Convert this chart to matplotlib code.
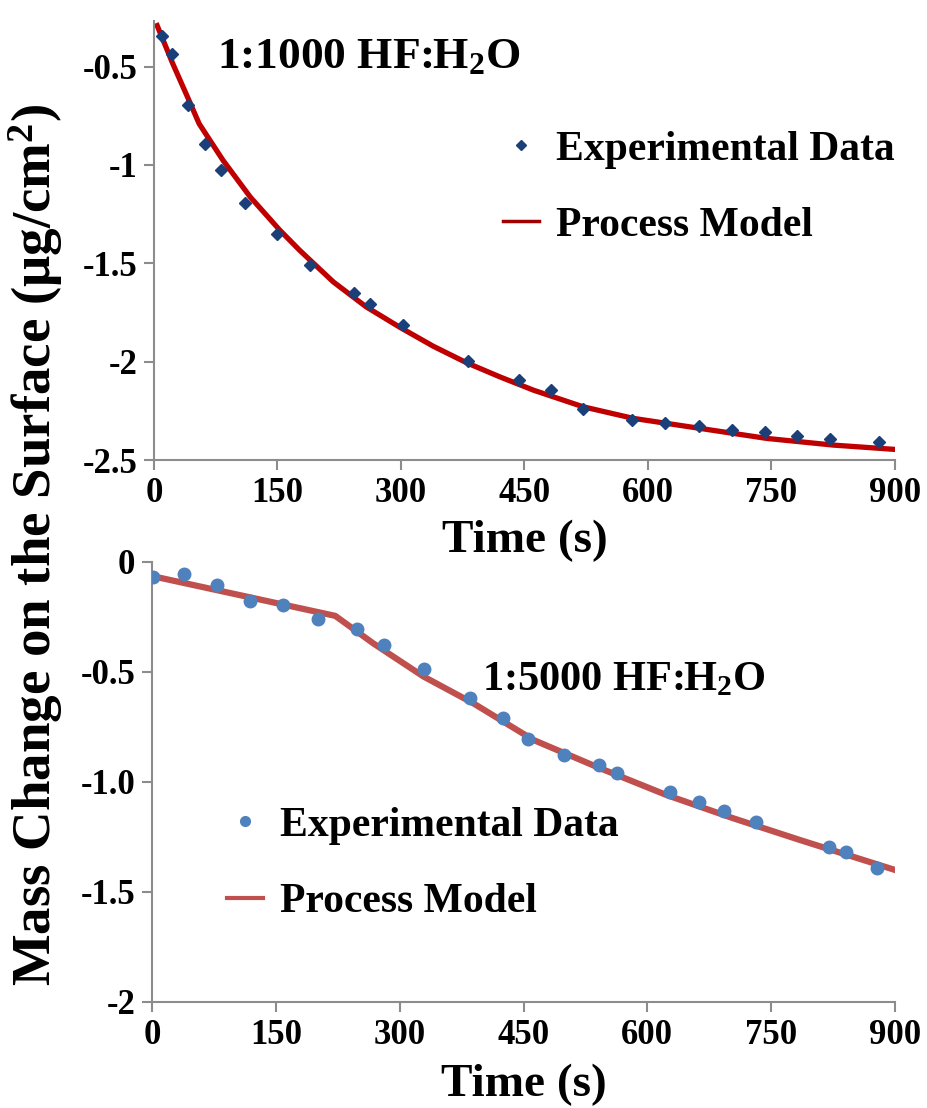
import numpy as np
import matplotlib
matplotlib.use('Agg')
import matplotlib.pyplot as plt
from matplotlib.ticker import FixedLocator, FixedFormatter

plt.rcParams['font.family'] = ['Liberation Serif', 'DejaVu Serif']
plt.rcParams['font.weight'] = 'bold'
plt.rcParams['mathtext.fontset'] = 'custom'
plt.rcParams['mathtext.rm'] = 'Liberation Serif:bold'
plt.rcParams['mathtext.bf'] = 'Liberation Serif:bold'
plt.rcParams['mathtext.it'] = 'Liberation Serif:bold'

# --- 1:1000 HF:H2O ---
t_exp_1000 = [10, 22, 42, 62, 81, 111, 150, 190, 243, 262, 302, 382, 443, 482, 521,
              581, 621, 662, 702, 742, 781, 821, 881]
m_exp_1000 = [-0.343, -0.435, -0.694, -0.892, -1.028, -1.192, -1.349, -1.510, -1.651,
              -1.708, -1.815, -1.997, -2.094, -2.145, -2.241, -2.297, -2.314, -2.327,
              -2.348, -2.356, -2.378, -2.393, -2.407]
t_mod_1000 = [4, 23, 40, 55, 84, 117, 153, 177, 218, 258, 299, 339, 380, 420, 461,
              521, 582, 663, 744, 825, 900]
m_mod_1000 = [-0.292, -0.486, -0.647, -0.791, -0.977, -1.163, -1.332, -1.434, -1.595,
              -1.722, -1.826, -1.921, -2.006, -2.077, -2.145, -2.229, -2.288, -2.339,
              -2.390, -2.424, -2.446]

# --- 1:5000 HF:H2O ---
t_exp_5000 = [1, 39, 79, 119, 159, 201, 248, 281, 329, 385, 425, 455, 499, 541, 563,
              627, 663, 693, 732, 820, 841, 878]
m_exp_5000 = [-0.067, -0.055, -0.105, -0.176, -0.195, -0.259, -0.305, -0.377, -0.486,
              -0.617, -0.708, -0.806, -0.877, -0.923, -0.961, -1.044, -1.089, -1.132,
              -1.183, -1.294, -1.317, -1.392]
t_mod_5000 = [0, 222, 268, 329, 389, 462, 543, 623, 704, 785, 900]
m_mod_5000 = [-0.064, -0.245, -0.370, -0.521, -0.642, -0.809, -0.938, -1.059, -1.165,
              -1.264, -1.400]

x_ticks = [0, 150, 300, 450, 600, 750, 900]
y_ticks_top = [-2.5, -2, -1.5, -1, -0.5]
y_labels_top = ['-2.5', '-2', '-1.5', '-1', '-0.5']
y_ticks_bot = [-2, -1.5, -1.0, -0.5, 0]
y_labels_bot = ['-2', '-1.5', '-1.0', '-0.5', '0']

TICK_FS = 25
LAB_FS = 34
LEG_FS = 30

fig = plt.figure(figsize=(9.27, 11.08), dpi=100)
ax1 = fig.add_axes([0.166, 0.5848, 0.7995, 0.396])
ax2 = fig.add_axes([0.164, 0.0957, 0.8015, 0.3971])

grey = '#8c8c8c'
for ax in (ax1, ax2):
    for s in ('top', 'right'):
        ax.spines[s].set_visible(False)
    for s in ('left', 'bottom'):
        ax.spines[s].set_color(grey)
        ax.spines[s].set_linewidth(1.5)
    ax.tick_params(axis='both', colors=grey, width=1.5, length=7, labelsize=TICK_FS,
                   labelcolor='black', pad=5)
    ax.set_xlim(0, 900)
    ax.xaxis.set_major_locator(FixedLocator(x_ticks))
    ax.xaxis.set_major_formatter(FixedFormatter([str(v) for v in x_ticks]))

# top panel
ax1.plot(t_exp_1000, m_exp_1000, linestyle='none', marker='D', markersize=6.5,
         color='#1b3f78', label='Experimental Data', zorder=3)
ax1.plot(t_mod_1000, m_mod_1000, color='#c00000', linewidth=3.8,
         label='Process Model', zorder=2)
ax1.set_ylim(-2.5, -0.27)
ax1.yaxis.set_major_locator(FixedLocator(y_ticks_top))
ax1.yaxis.set_major_formatter(FixedFormatter(y_labels_top))
ax1.set_xlabel('Time (s)', fontsize=LAB_FS, fontweight='bold', labelpad=7)
ax1.text(0.085, 0.965, '1:1000 HF:H$_2$O', transform=ax1.transAxes,
         fontsize=32.7, fontweight='bold', va='top', ha='left')
leg1 = ax1.legend(loc='upper left', bbox_to_anchor=(0.543, 0.882),
                  bbox_transform=fig.transFigure, frameon=False, borderpad=0,
                  borderaxespad=0, handlelength=0.86, handletextpad=0.4,
                  labelspacing=0.9, prop={'weight': 'bold', 'size': LEG_FS})
leg1.get_lines()[0].set_markersize(5)
leg1.get_lines()[1].set_linewidth(2.5)
leg1.get_lines()[1].set_color('#a00000')

# bottom panel
ax2.plot(t_exp_5000, m_exp_5000, linestyle='none', marker='o', markersize=9,
         color='#4f81bd', label='Experimental Data', zorder=3)
ax2.plot(t_mod_5000, m_mod_5000, color='#c0504d', linewidth=4.5,
         label='Process Model', zorder=2)
ax2.set_ylim(-2, 0)
ax2.yaxis.set_major_locator(FixedLocator(y_ticks_bot))
ax2.yaxis.set_major_formatter(FixedFormatter(y_labels_bot))
ax2.set_xlabel('Time (s)', fontsize=LAB_FS, fontweight='bold', labelpad=9)
ax2.text(0.444, 0.775, '1:5000 HF:H$_2$O', transform=ax2.transAxes,
         fontsize=30.5, fontweight='bold', va='top', ha='left')
leg2 = ax2.legend(loc='upper left', bbox_to_anchor=(0.245, 0.272),
                  bbox_transform=fig.transFigure, frameon=False, borderpad=0,
                  borderaxespad=0, handlelength=0.86, handletextpad=0.4,
                  labelspacing=0.92, prop={'weight': 'bold', 'size': LEG_FS})
leg2.get_lines()[0].set_markersize(7)
leg2.get_lines()[1].set_linewidth(3)

for ax in (ax1, ax2):
    for lab in ax.get_xticklabels() + ax.get_yticklabels():
        lab.set_fontweight('bold')

fig.text(0.038, 0.508, 'Mass Change on the Surface (\u03bcg/cm$^2$)',
         rotation=90, fontsize=39.5, fontweight='bold', ha='center', va='center')

fig.savefig('out.png', dpi=100)
